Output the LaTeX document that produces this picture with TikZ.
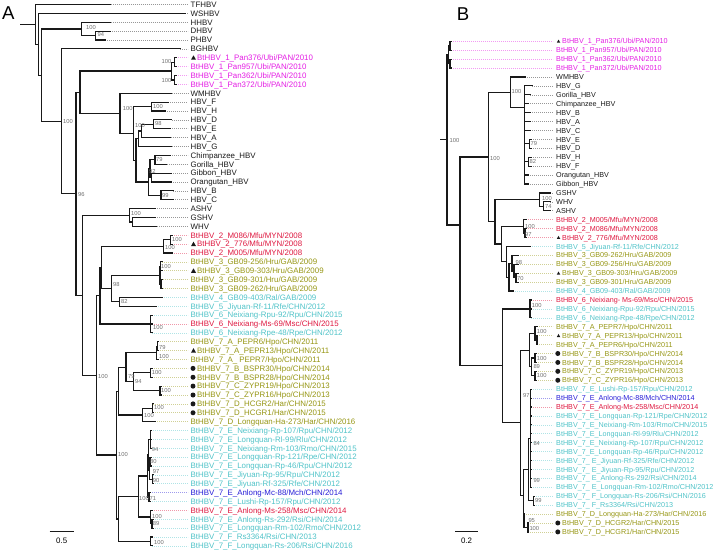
\documentclass[tikz,border=0pt]{standalone}
\usepackage{fontspec}
\setmainfont{Liberation Sans}
\definecolor{cmag}{RGB}{228,30,228}
\definecolor{cred}{RGB}{222,24,64}
\definecolor{coli}{RGB}{150,150,20}
\definecolor{cteal}{RGB}{80,195,200}
\definecolor{cblue}{RGB}{40,30,215}
\definecolor{cblk}{RGB}{25,25,25}
\definecolor{cbs}{RGB}{110,110,110}
\tikzset{
 br/.style={line width=1.2pt, line cap=rect, draw=cblk},
 dl/.style={line width=0.6pt, dash pattern=on 0.7pt off 1.3pt},
 lab/.style={anchor=base west, yshift=-2.8pt, inner sep=0pt, font=\fontsize{7.9}{8}\selectfont},
 labb/.style={anchor=base west, yshift=-2.6pt, inner sep=0pt, font=\fontsize{7.2}{8}\selectfont},
 bsl/.style={anchor=base west, yshift=-2.1pt, inner sep=0pt, font=\fontsize{5.8}{6}\selectfont, text=cbs},
 ttl/.style={inner sep=0pt, font=\fontsize{18.6}{19}\selectfont},
}
\newcommand\Leaf[6]{%
  \expandafter\xdef\csname tc@#1\endcsname{#2}%
  \expandafter\xdef\csname tx@#1\endcsname{#3}%
  \draw[dl,#4!45] (#3,#2) -- (\dotX,#2);
  \node[\labstyle,text=#4] (#1) at (#5,#2) {#6};}
\newcommand\Tnode[4]{%
  \pgfmathsetmacro\Ttmp{(\csname tc@#3\endcsname+\csname tc@#4\endcsname)/2}%
  \expandafter\xdef\csname tc@#1\endcsname{\Ttmp}%
  \expandafter\xdef\csname tx@#1\endcsname{#2}%
  \draw[br] (\csname tx@#3\endcsname,\csname tc@#3\endcsname) -| (#2,\Ttmp) |- (\csname tx@#4\endcsname,\csname tc@#4\endcsname);}
\newcommand\Tpoly[6]{%
  \expandafter\xdef\csname tc@#1\endcsname{#3}%
  \expandafter\xdef\csname tx@#1\endcsname{#2}%
  \draw[br] (#2,\csname tc@#4\endcsname) -- (#2,\csname tc@#5\endcsname);
  \foreach \Tc in {#6}{\draw[br] (#2,\csname tc@\Tc\endcsname) -- (\csname tx@\Tc\endcsname,\csname tc@\Tc\endcsname);}}
\newcommand\mkT[3]{\fill[cblk] (#1,#2) ++(-#3*1.25pt,-#3*1pt) -- ++(#3*2.5pt,0) -- ++(-#3*1.25pt,#3*2.2pt) -- cycle;}
\newcommand\mkC[2]{\fill[cblk] (#1,#2) circle (2.5pt);}
\newcommand\BS[4]{\node[bsl] (#1) at (#2,-#3) {#4};}
\begin{document}
\begin{tikzpicture}[x=1pt,y=1pt]
\useasboundingbox (0,0) rectangle (714,-553);
\node[ttl] (lA) at (8.3,-13.3) {A};
\node[ttl] (lB) at (463,-14) {B};
% ================= PANEL A =================
\begin{scope}[y=-8.875pt,yshift=4.375pt]
\def\dotX{188}\def\labstyle{lab}
\def\LX{190.5}\def\MX{197}
\Leaf{a1}{1}{110.7}{cblk}{\LX}{TFHBV}
\Leaf{a2}{2}{185}{cblk}{\LX}{WSHBV}
\Leaf{a3}{3}{110.7}{cblk}{\LX}{HHBV}
\Leaf{a4}{4}{110}{cblk}{\LX}{DHBV}
\Leaf{a5}{5}{105}{cblk}{\LX}{PHBV}
\Leaf{a6}{6}{180}{cblk}{\LX}{BGHBV}
\Leaf{a7}{7}{176}{cmag}{\MX}{BtHBV\_1\_Pan376/Ubi/PAN/2010}\mkT{193.5}{7}{2}
\Leaf{a8}{8}{176}{cmag}{\LX}{BtHBV\_1\_Pan957/Ubi/PAN/2010}
\Leaf{a9}{9}{176}{cmag}{\LX}{BtHBV\_1\_Pan362/Ubi/PAN/2010}
\Leaf{a10}{10}{176}{cmag}{\LX}{BtHBV\_1\_Pan372/Ubi/PAN/2010}
\Leaf{a11}{11}{171.7}{cblk}{\LX}{WMHBV}
\Leaf{a12}{12}{168.3}{cblk}{\LX}{HBV\_F}
\Leaf{a13}{13}{165}{cblk}{\LX}{HBV\_H}
\Leaf{a14}{14}{171.7}{cblk}{\LX}{HBV\_D}
\Leaf{a15}{15}{170}{cblk}{\LX}{HBV\_E}
\Leaf{a16}{16}{170.7}{cblk}{\LX}{HBV\_A}
\Leaf{a17}{17}{171.7}{cblk}{\LX}{HBV\_G}
\Leaf{a18}{18}{170}{cblk}{\LX}{Chimpanzee\_HBV}
\Leaf{a19}{19}{166.7}{cblk}{\LX}{Gorilla\_HBV}
\Leaf{a20}{20}{171}{cblk}{\LX}{Gibbon\_HBV}
\Leaf{a21}{21}{171}{cblk}{\LX}{Orangutan\_HBV}
\Leaf{a22}{22}{173}{cblk}{\LX}{HBV\_B}
\Leaf{a23}{23}{173}{cblk}{\LX}{HBV\_C}
\Leaf{a24}{24}{155}{cblk}{\LX}{ASHV}
\Leaf{a25}{25}{155}{cblk}{\LX}{GSHV}
\Leaf{a26}{26}{156.7}{cblk}{\LX}{WHV}
\Leaf{a27}{27}{172}{cred}{\LX}{BtHBV\_2\_M086/Mfu/MYN/2008}
\Leaf{a28}{28}{172}{cred}{\MX}{BtHBV\_2\_776/Mfu/MYN/2008}\mkT{193.5}{28}{2}
\Leaf{a29}{29}{172}{cred}{\LX}{BtHBV\_2\_M005/Mfu/MYN/2008}
\Leaf{a30}{30}{162}{coli}{\LX}{BtHBV\_3\_GB09-256/Hru/GAB/2009}
\Leaf{a31}{31}{162}{coli}{\MX}{BtHBV\_3\_GB09-303/Hru/GAB/2009}\mkT{193.5}{31}{2}
\Leaf{a32}{32}{162.5}{coli}{\LX}{BtHBV\_3\_GB09-301/Hru/GAB/2009}
\Leaf{a33}{33}{162.5}{coli}{\LX}{BtHBV\_3\_GB09-262/Hru/GAB/2009}
\Leaf{a34}{34}{162.3}{cteal}{\LX}{BtHBV\_4\_GB09-403/Ral/GAB/2009}
\Leaf{a35}{35}{156}{cteal}{\LX}{BtHBV\_5\_Jiyuan-Rf-11/Rfe/CHN/2012}
\Leaf{a36}{36}{152}{cteal}{\LX}{BtHBV\_6\_Neixiang-Rpu-92/Rpu/CHN/2015}
\Leaf{a37}{37}{152}{cred}{\LX}{BtHBV\_6\_Neixiang-Ms-69/Msc/CHN/2015}
\Leaf{a38}{38}{152}{cteal}{\LX}{BtHBV\_6\_Neixiang-Rpe-48/Rpe/CHN/2012}
\Leaf{a39}{39}{158}{coli}{\LX}{BtHBV\_7\_A\_PEPR6/Hpo/CHN/2011}
\Leaf{a40}{40}{158}{coli}{\MX}{BtHBV\_7\_A\_PEPR13/Hpo/CHN/2011}\mkT{193.5}{40}{2}
\Leaf{a41}{41}{158}{coli}{\LX}{BtHBV\_7\_A\_ PEPR7/Hpo/CHN/2011}
\Leaf{a42}{42}{152}{coli}{\MX}{BtHBV\_7\_B\_BSPR30/Hpo/CHN/2014}\mkC{193}{42}
\Leaf{a43}{43}{152}{coli}{\MX}{BtHBV\_7\_B\_BSPR28/Hpo/CHN/2014}\mkC{193}{43}
\Leaf{a44}{44}{161}{coli}{\MX}{BtHBV\_7\_C\_ZYPR19/Hpo/CHN/2013}\mkC{193}{44}
\Leaf{a45}{45}{161}{coli}{\MX}{BtHBV\_7\_C\_ZYPR16/Hpo/CHN/2013}\mkC{193}{45}
\Leaf{a46}{46}{153}{coli}{\MX}{BtHBV\_7\_D\_HCGR2/Har/CHN/2015}\mkC{193}{46}
\Leaf{a47}{47}{153}{coli}{\MX}{BtHBV\_7\_D\_HCGR1/Har/CHN/2015}\mkC{193}{47}
\Leaf{a48}{48}{155}{coli}{\LX}{BtHBV\_7\_D\_Longquan-Ha-273/Har/CHN/2016}
\Leaf{a49}{49}{151}{cteal}{\LX}{BtHBV\_7\_E\_Neixiang-Rp-107/Rpu/CHN/2012}
\Leaf{a50}{50}{151}{cteal}{\LX}{BtHBV\_7\_E\_Longquan-Rl-99/Rlu/CHN/2012}
\Leaf{a51}{51}{151}{cteal}{\LX}{BtHBV\_7\_E\_Neixiang-Rm-103/Rmo/CHN/2015}
\Leaf{a52}{52}{151}{cteal}{\LX}{BtHBV\_7\_E\_Longquan-Rp-121/Rpe/CHN/2012}
\Leaf{a53}{53}{151}{cteal}{\LX}{BtHBV\_7\_E\_Longquan-Rp-46/Rpu/CHN/2012}
\Leaf{a54}{54}{153}{cteal}{\LX}{BtHBV\_7\_E\_Jiyuan-Rp-95/Rpu/CHN/2012}
\Leaf{a55}{55}{153}{cteal}{\LX}{BtHBV\_7\_E\_Jiyuan-Rf-325/Rfe/CHN/2012}
\Leaf{a56}{56}{150}{cblue}{\LX}{BtHBV\_7\_E\_Anlong-Mc-88/Mch/CHN/2014}
\Leaf{a57}{57}{150}{cteal}{\LX}{BtHBV\_7\_E\_Lushi-Rp-157/Rpu/CHN/2012}
\Leaf{a58}{58}{152}{cred}{\LX}{BtHBV\_7\_E\_Anlong-Ms-258/Msc/CHN/2014}
\Leaf{a59}{59}{153}{cteal}{\LX}{BtHBV\_7\_E\_Anlong-Rs-292/Rsi/CHN/2014}
\Leaf{a60}{60}{153}{cteal}{\LX}{BtHBV\_7\_E\_Longquan-Rm-102/Rmo/CHN/2012}
\Leaf{a61}{61}{152}{cteal}{\LX}{BtHBV\_7\_F\_Rs3364/Rsi/CHN/2013}
\Leaf{a62}{62}{152}{cteal}{\LX}{BtHBV\_7\_F\_Longquan-Rs-206/Rsi/CHN/2016}
% tree A
\Tnode{DP}{95.7}{a4}{a5}
\Tnode{HH}{81.7}{a3}{DP}
\Tnode{Bia}{174.5}{a7}{a8}
\Tnode{Bib}{174.5}{a9}{a10}
\Tnode{BTi}{171.5}{Bia}{Bib}
\Tnode{FH}{151.7}{a12}{a13}
\Tnode{DE}{153.3}{a14}{a15}
\Tnode{DEA}{141.7}{DE}{a16}
\Tnode{DEAG}{138.5}{DEA}{a17}
\Tnode{CG}{155}{a18}{a19}
\Tnode{GO}{151.7}{a20}{a21}
\Tnode{APE}{150}{CG}{GO}
\Tnode{BC}{161}{a22}{a23}
\Tnode{APBC}{148.3}{APE}{BC}
\Tnode{Hii}{136}{DEAG}{APBC}
\Tnode{HBV}{133.3}{FH}{Hii}
\Tnode{PRI}{120}{a11}{HBV}
\Tnode{V}{80}{BTi}{PRI}
\Tnode{GW}{132.7}{a25}{a26}
\Tnode{ROD}{129.3}{a24}{GW}
\Tnode{BTiia}{170.7}{a27}{a28}
\Tnode{BTii}{163.3}{BTiia}{a29}
\Tnode{Biiia}{160.5}{a30}{a31}
\Tnode{Biiib}{161}{a32}{a33}
\Tnode{Biii}{160}{Biiia}{Biiib}
\Tnode{Bivv}{119.3}{a34}{a35}
\Tnode{Nnn}{111.7}{Biii}{Bivv}
\Tpoly{Bvi}{150.7}{37}{a36}{a38}{a36,a37,a38}
\Tnode{Pone}{101.7}{BTii}{Nnn}
\Tnode{R}{100}{Pone}{Bvi}
\Tnode{Aone}{157.5}{a39}{a40}
\Tnode{Aseven}{156.7}{Aone}{a41}
\Tnode{Bseven}{150.7}{a42}{a43}
\Tnode{Cseven}{160}{a44}{a45}
\Tnode{BCseven}{133.3}{Bseven}{Cseven}
\Tnode{ABCseven}{126}{Aseven}{BCseven}
\Tnode{Done}{152.3}{a46}{a47}
\Tnode{Dseven}{142.7}{Done}{a48}
\Tnode{Qone}{118.5}{ABCseven}{Dseven}
\Tpoly{Ea}{150.7}{50}{a49}{a51}{a49,a50,a51}
\Tnode{Eb}{150}{a52}{a53}
\Tnode{Ec}{152.5}{a54}{a55}
\Tnode{Ed}{149.3}{Eb}{Ec}
\Tnode{Ee}{148.3}{Ea}{Ed}
\Tnode{Ef}{149}{a56}{a57}
\Tnode{Eone}{147.7}{Ee}{Ef}
\Tnode{Etwoi}{152}{a59}{a60}
\Tnode{Etwo}{150.7}{a58}{Etwoi}
\Tnode{Eseven}{138.3}{Eone}{Etwo}
\Tnode{Fseven}{150.7}{a61}{a62}
\Tnode{EF}{118.3}{Eseven}{Fseven}
\Tnode{Q}{116.7}{Qone}{EF}
\Tnode{S}{96.7}{R}{Q}
\Tnode{U}{82.7}{ROD}{S}
\Tnode{W}{76}{V}{U}
\Tnode{Z}{61.7}{a6}{W}
\Tnode{Y}{41.7}{HH}{Z}
\Tnode{X}{38.5}{a2}{Y}
\Tnode{RT}{35.7}{a1}{X}
\draw[br] (20.7,\csname tc@RT\endcsname) -- (35.7,\csname tc@RT\endcsname);
\end{scope}
% bootstrap A
\BS{s1}{86}{27}{100}
\BS{s2}{97.5}{34.5}{94}
\BS{s3}{161.5}{61.7}{100}
\BS{s4}{161.5}{80.5}{100}
\BS{s5}{63}{121.7}{100}
\BS{s6}{122.7}{108.3}{100}
\BS{s7}{153}{106}{100}
\BS{s8}{155}{123.5}{98}
\BS{s9}{135}{125.5}{100}
\BS{s10}{156}{159}{79}
\BS{s11}{149}{171.7}{92}
\BS{s12}{162}{195}{99}
\BS{s13}{78}{194}{96}
\BS{s14}{131}{213}{100}
\BS{s15}{172}{239.3}{100}
\BS{s16}{165}{247}{100}
\BS{s17}{161}{266.7}{100}
\BS{s18}{113}{284.3}{98}
\BS{s19}{121}{301.7}{82}
\BS{s20}{153}{327.3}{100}
\BS{s21}{159}{347}{79}
\BS{s22}{159}{356.7}{100}
\BS{s23}{128}{376}{79}
\BS{s24}{151.7}{372.3}{100}
\BS{s25}{135}{381.7}{94}
\BS{s26}{161}{390.7}{100}
\BS{s27}{98}{376.7}{100}
\BS{s28}{154}{407.3}{100}
\BS{s29}{144}{415.7}{100}
\BS{s30}{118}{454.3}{100}
\BS{s31}{151.7}{449.3}{94}
\BS{s32}{150}{461.7}{80}
\BS{s33}{152.7}{471.7}{97}
\BS{s34}{152.7}{480}{90}
\BS{s35}{139}{498.3}{100}
\BS{s36}{149.5}{498.3}{71}
\BS{s37}{152}{516.7}{100}
\BS{s38}{152.7}{523.3}{89}
\BS{s39}{154}{542.7}{100}
\coordinate (sbAl) at (49.5,-531);
\coordinate (sbAr) at (74,-531);
\draw[line width=0.8pt,cblk] (sbAl) -- (sbAr);
\node[inner sep=0pt,font=\fontsize{7.9}{8}\selectfont] (sbA) at (61.7,-540.5) {0.5};
% ================= PANEL B =================
\begin{scope}[y=-8.92pt,yshift=-32.38pt]
\def\dotX{553}\def\labstyle{labb}
\def\LX{556}\def\MX{562}
\Leaf{b1}{1}{451}{cmag}{\MX}{BtHBV\_1\_Pan376/Ubi/PAN/2010}\mkT{558.5}{1}{1.4}
\Leaf{b2}{2}{451}{cmag}{\LX}{BtHBV\_1\_Pan957/Ubi/PAN/2010}
\Leaf{b3}{3}{451}{cmag}{\LX}{BtHBV\_1\_Pan362/Ubi/PAN/2010}
\Leaf{b4}{4}{451}{cmag}{\LX}{BtHBV\_1\_Pan372/Ubi/PAN/2010}
\Leaf{b5}{5}{525}{cblk}{\LX}{WMHBV}
\Leaf{b6}{6}{532}{cblk}{\LX}{HBV\_G}
\Leaf{b7}{7}{530}{cblk}{\LX}{Gorilla\_HBV}
\Leaf{b8}{8}{528}{cblk}{\LX}{Chimpanzee\_HBV}
\Leaf{b9}{9}{530}{cblk}{\LX}{HBV\_B}
\Leaf{b10}{10}{530}{cblk}{\LX}{HBV\_A}
\Leaf{b11}{11}{530}{cblk}{\LX}{HBV\_C}
\Leaf{b12}{12}{531}{cblk}{\LX}{HBV\_E}
\Leaf{b13}{13}{531}{cblk}{\LX}{HBV\_D}
\Leaf{b14}{14}{531}{cblk}{\LX}{HBV\_H}
\Leaf{b15}{15}{531}{cblk}{\LX}{HBV\_F}
\Leaf{b16}{16}{528}{cblk}{\LX}{Orangutan\_HBV}
\Leaf{b17}{17}{528}{cblk}{\LX}{Gibbon\_HBV}
\Leaf{b18}{18}{550}{cblk}{\LX}{GSHV}
\Leaf{b19}{19}{550}{cblk}{\LX}{WHV}
\Leaf{b20}{20}{550}{cblk}{\LX}{ASHV}
\Leaf{b21}{21}{526}{cred}{\LX}{BtHBV\_2\_M005/Mfu/MYN/2008}
\Leaf{b22}{22}{526}{cred}{\LX}{BtHBV\_2\_M086/Mfu/MYN/2008}
\Leaf{b23}{23}{526}{cred}{\MX}{BtHBV\_2\_776/Mfu/MYN/2008}\mkT{558.5}{23}{1.4}
\Leaf{b24}{24}{530}{cteal}{\LX}{BtHBV\_5\_Jiyuan-Rf-11/Rfe/CHN/2012}
\Leaf{b25}{25}{518}{coli}{\LX}{BtHBV\_3\_GB09-262/Hru/GAB/2009}
\Leaf{b26}{26}{518}{coli}{\LX}{BtHBV\_3\_GB09-256/Hru/GAB/2009}
\Leaf{b27}{27}{518}{coli}{\MX}{BtHBV\_3\_GB09-303/Hru/GAB/2009}\mkT{558.5}{27}{1.4}
\Leaf{b28}{28}{518}{coli}{\LX}{BtHBV\_3\_GB09-301/Hru/GAB/2009}
\Leaf{b29}{29}{513}{cteal}{\LX}{BtHBV\_4\_GB09-403/Ral/GAB/2009}
\Leaf{b30}{30}{531}{cred}{\LX}{BtHBV\_6\_Neixiang- Ms-69/Msc/CHN/2015}
\Leaf{b31}{31}{531}{cteal}{\LX}{BtHBV\_6\_Neixiang-Rpu-92/Rpu/CHN/2015}
\Leaf{b32}{32}{531}{cteal}{\LX}{BtHBV\_6\_Neixiang-Rpe-48/Rpe/CHN/2012}
\Leaf{b33}{33}{537}{coli}{\LX}{BtHBV\_7\_A\_PEPR7/Hpo/CHN/2011}
\Leaf{b34}{34}{537}{coli}{\MX}{BtHBV\_7\_A\_PEPR13/Hpo/CHN/2011}\mkT{558.5}{34}{1.4}
\Leaf{b35}{35}{537}{coli}{\LX}{BtHBV\_7\_A\_PEPR6/Hpo/CHN/2011}
\Leaf{b36}{36}{536}{coli}{\MX}{BtHBV\_7\_B\_BSPR30/Hpo/CHN/2014}\mkC{557.8}{36}
\Leaf{b37}{37}{536}{coli}{\MX}{BtHBV\_7\_B\_BSPR28/Hpo/CHN/2014}\mkC{557.8}{37}
\Leaf{b38}{38}{536}{coli}{\MX}{BtHBV\_7\_C\_ZYPR19/Hpo/CHN/2013}\mkC{557.8}{38}
\Leaf{b39}{39}{536}{coli}{\MX}{BtHBV\_7\_C\_ZYPR16/Hpo/CHN/2013}\mkC{557.8}{39}
\Leaf{b40}{40}{531}{cteal}{\LX}{BtHBV\_7\_E\_Lushi-Rp-157/Rpu/CHN/2012}
\Leaf{b41}{41}{531}{cblue}{\LX}{BtHBV\_7\_E\_Anlong-Mc-88/Mch/CHN/2014}
\Leaf{b42}{42}{531}{cred}{\LX}{BtHBV\_7\_E\_Anlong-Ms-258/Msc/CHN/2014}
\Leaf{b43}{43}{531}{cteal}{\LX}{BtHBV\_7\_E\_Longquan-Rp-121/Rpe/CHN/2012}
\Leaf{b44}{44}{531}{cteal}{\LX}{BtHBV\_7\_E\_Neixiang-Rm-103/Rmo/CHN/2015}
\Leaf{b45}{45}{531}{cteal}{\LX}{BtHBV\_7\_E\_Longquan-Rl-99/Rlu/CHN/2012}
\Leaf{b46}{46}{531}{cteal}{\LX}{BtHBV\_7\_E\_Neixiang-Rp-107/Rpu/CHN/2012}
\Leaf{b47}{47}{531}{cteal}{\LX}{BtHBV\_7\_E\_Longquan-Rp-46/Rpu/CHN/2012}
\Leaf{b48}{48}{531}{cteal}{\LX}{BtHBV\_7\_ E\_Jiyuan-Rf-325/Rfe/CHN/2012}
\Leaf{b49}{49}{531}{cteal}{\LX}{BtHBV\_7\_ E\_Jiyuan-Rp-95/Rpu/CHN/2012}
\Leaf{b50}{50}{531}{cteal}{\LX}{BtHBV\_7\_ E\_Anlong-Rs-292/Rsi/CHN/2014}
\Leaf{b51}{51}{531}{cteal}{\LX}{BtHBV\_7\_ E\_Longquan-Rm-102/Rmo/CHN/2012}
\Leaf{b52}{52}{534}{cteal}{\LX}{BtHBV\_7\_ F\_Longquan-Rs-206/Rsi/CHN/2016}
\Leaf{b53}{53}{534}{cteal}{\LX}{BtHBV\_7\_ F\_Rs3364/Rsi/CHN/2013}
\Leaf{b54}{54}{524}{coli}{\LX}{BtHBV\_7\_D\_Longquan-Ha-273/Har/CHN/2016}
\Leaf{b55}{55}{528}{coli}{\MX}{BtHBV\_7\_D\_HCGR2/Har/CHN/2015}\mkC{557.8}{55}
\Leaf{b56}{56}{528}{coli}{\MX}{BtHBV\_7\_D\_HCGR1/Har/CHN/2015}\mkC{557.8}{56}
% tree B
\Tnode{pBia}{450}{b1}{b2}
\Tnode{pBib}{450}{b3}{b4}
\Tnode{pBTi}{448.5}{pBia}{pBib}
\Tnode{pED}{529.3}{b12}{b13}
\Tnode{pHF}{528.3}{b14}{b15}
\Tpoly{pHBV}{524.3}{8.4}{b6}{b17}{b6,b7,b8,b9,b10,b11,pED,pHF,b16,b17}
\Tnode{pPRI}{510.7}{b5}{pHBV}
\Tnode{pWA}{543.3}{b19}{b20}
\Tnode{pROD}{539.3}{b18}{pWA}
\Tnode{pBTiii}{525}{b22}{b23}
\Tnode{pBTii}{523.3}{b21}{pBTiii}
\Tnode{pBiiii}{516}{b27}{b28}
\Tnode{pBiiiii}{514}{b26}{pBiiii}
\Tnode{pBiii}{512}{b25}{pBiiiii}
\Tnode{pBiiiv}{509}{pBiii}{b29}
\Tnode{pNii}{506.7}{b24}{pBiiiv}
\Tnode{pBAT}{501.7}{pBTii}{pNii}
\Tnode{pPRB}{495}{pROD}{pBAT}
\Tnode{pPR}{488.3}{pPRI}{pPRB}
\Tpoly{pBvi}{530}{31}{b30}{b32}{b30,b31,b32}
\Tnode{pAvi}{537}{b34}{b35}
\Tnode{pAvii}{535}{b33}{pAvi}
\Tnode{pBvii}{535}{b36}{b37}
\Tnode{pCvii}{535}{b38}{b39}
\Tnode{pBCvii}{531.7}{pBvii}{pCvii}
\Tnode{pABCvii}{529.3}{pAvii}{pBCvii}
\Tpoly{pEvii}{530.5}{45.5}{b40}{b51}{b40,b41,b42,b43,b44,b45,b46,b47,b48,b49,b50,b51}
\Tnode{pFvii}{533.3}{b52}{b53}
\Tnode{pEF}{528.3}{pEvii}{pFvii}
\Tnode{pDone}{528}{b55}{b56}
\Tnode{pDvii}{524}{b54}{pDone}
\Tnode{pEFD}{523.3}{pEF}{pDvii}
\Tnode{pSeven}{520.7}{pABCvii}{pEFD}
\Tnode{pSixSeven}{502.7}{pBvi}{pSeven}
\Tpoly{pING}{460}{21.6}{pPR}{pSixSeven}{pPR,pSixSeven}
\Tnode{pRT}{447}{pBTi}{pING}
\draw[br] (441,\csname tc@pRT\endcsname) -- (447,\csname tc@pRT\endcsname);
\end{scope}
\BS{t0}{449.5}{140}{100}
\BS{t1}{511.5}{91.7}{100}
\BS{t2}{490}{158.3}{100}
\BS{t3}{530.5}{143.3}{79}
\BS{t4}{529.5}{161.7}{82}
\BS{t5}{542}{198.3}{100}
\BS{t6}{545}{206}{74}
\BS{t7}{525}{226}{100}
\BS{t8}{525}{234.3}{97}
\BS{t9}{515.5}{262.7}{98}
\BS{t10}{517}{278.3}{70}
\BS{t11}{531.7}{305}{100}
\BS{t12}{536.7}{331.7}{100}
\BS{t13}{536.7}{358.3}{100}
\BS{t14}{533.3}{366}{89}
\BS{t15}{536.7}{375}{100}
\BS{t16}{523}{395}{97}
\BS{t17}{533.3}{443.3}{84}
\BS{t18}{533.3}{480}{99}
\BS{t19}{535}{500}{99}
\BS{t20}{528.3}{520}{95}
\BS{t21}{529.3}{528.3}{100}
\coordinate (sbBl) at (455,-531);
\coordinate (sbBr) at (478,-531);
\draw[line width=0.8pt,cblk] (sbBl) -- (sbBr);
\node[inner sep=0pt,font=\fontsize{7.9}{8}\selectfont] (sbB) at (466.5,-540.5) {0.2};
\end{tikzpicture}
\end{document}
